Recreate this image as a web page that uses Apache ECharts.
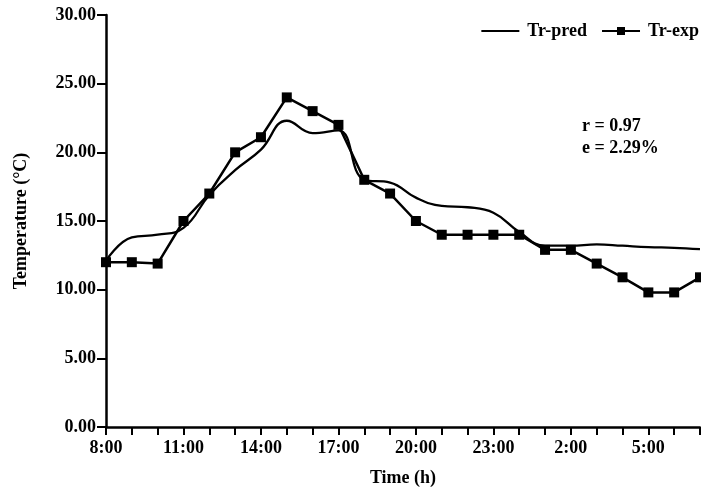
<!DOCTYPE html>
<html>
<head>
<meta charset="utf-8">
<script src="https://cdn.jsdelivr.net/npm/echarts@6/dist/echarts.min.js"></script>
<style>
  html, body { margin: 0; padding: 0; background: #fff; }
  #chart { width: 701px; height: 492px; }
</style>
</head>
<body>
<div id="chart"></div>
<script>
// Hourly time stamps, 8:00 through 7:00 of the next day
const hours = ['8:00','9:00','10:00','11:00','12:00','13:00','14:00','15:00','16:00','17:00',
  '18:00','19:00','20:00','21:00','22:00','23:00','0:00','1:00','2:00','3:00','4:00','5:00','6:00','7:00'];

// Predicted temperature (smooth curve)
const trPred = [12.1, 13.8, 14.0, 14.5, 16.9, 18.7, 20.2, 22.3, 21.4, 21.6,
  18.0, 17.8, 16.7, 16.1, 16.0, 15.6, 14.2, 13.2, 13.2, 13.3, 13.2, 13.1, 13.05, 12.95];

// Measured temperature
const trExp = [12.0, 12.0, 11.9, 15.0, 17.0, 20.0, 21.1, 24.0, 23.0, 22.0,
  18.0, 17.0, 15.0, 14.0, 14.0, 14.0, 14.0, 12.9, 12.9, 11.9, 10.9, 9.8, 9.8, 10.9];

const yTicks = { min: 0, max: 30, step: 5 };
const statsLines = ['r = 0.97', 'e = 2.29%'];

const FONT = '"Liberation Serif", "Times New Roman", serif';
const txt = { fontFamily: FONT, fontWeight: 'bold', fontSize: 18, color: '#000' };

const chart = echarts.init(document.getElementById('chart'), null, { renderer: 'canvas' });

chart.setOption({
  animation: false,
  backgroundColor: '#fff',
  grid: { left: 106, right: 1, top: 15, bottom: 64, containLabel: false },
  legend: {
    right: -3,
    top: 17,
    itemWidth: 38,
    itemHeight: 10,
    itemGap: 14,
    textStyle: Object.assign({}, txt, { padding: [0, 0, 0, 3] }),
    data: [
      { name: 'Tr-pred', itemStyle: { opacity: 0 } },
      { name: 'Tr-exp' }
    ]
  },
  xAxis: {
    type: 'category',
    data: hours,
    boundaryGap: false,
    name: 'Time (h)',
    nameLocation: 'middle',
    nameGap: 42,
    nameTextStyle: txt,
    axisLine: { lineStyle: { color: '#000', width: 2.5 } },
    axisTick: { interval: 0, length: 8, lineStyle: { color: '#000', width: 2 } },
    axisLabel: Object.assign({ interval: 2, margin: 12 }, txt),
    splitLine: { show: false }
  },
  yAxis: {
    type: 'value',
    min: yTicks.min,
    max: yTicks.max,
    interval: yTicks.step,
    name: 'Temperature (°C)',
    nameLocation: 'middle',
    nameGap: 76,
    nameRotate: 90,
    nameTextStyle: txt,
    axisLine: { show: true, lineStyle: { color: '#000', width: 2.5 } },
    axisTick: { show: true, length: 9, lineStyle: { color: '#000', width: 2 } },
    axisLabel: Object.assign({ margin: 10, formatter: v => v.toFixed(2) }, txt),
    splitLine: { show: false }
  },
  graphic: statsLines.map((s, i) => ({
    type: 'text',
    left: 582,
    top: 117 + i * 22,
    style: { text: s, font: 'bold 18px ' + FONT, fill: '#000' }
  })),
  series: [
    {
      name: 'Tr-pred',
      type: 'line',
      data: trPred,
      smooth: 0.45,
      symbol: 'none',
      lineStyle: { color: '#000', width: 2.3 },
      itemStyle: { color: '#000' },
      z: 2
    },
    {
      name: 'Tr-exp',
      type: 'line',
      data: trExp,
      smooth: false,
      symbol: 'rect',
      symbolSize: 10,
      lineStyle: { color: '#000', width: 2.5 },
      itemStyle: { color: '#000' },
      z: 3
    }
  ]
});
</script>
</body>
</html>
